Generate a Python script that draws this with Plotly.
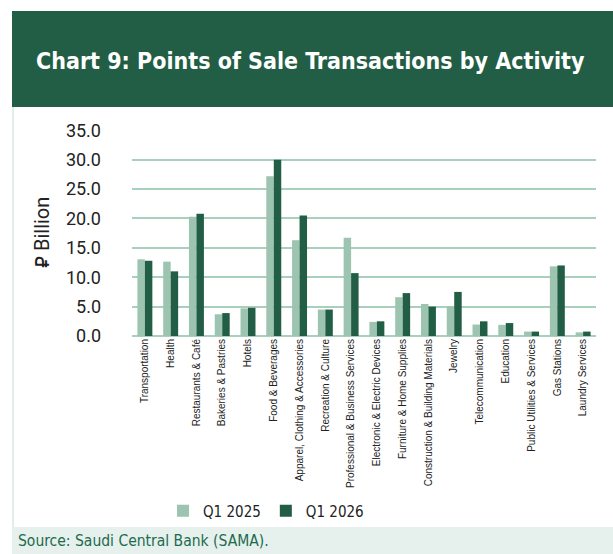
import plotly.graph_objects as go

categories = ["Transportation", "Health", "Restaurants & Café", "Bakeries & Pastries", "Hotels",
              "Food & Beverages", "Apparel, Clothing & Accessories", "Recreation & Culture",
              "Professional & Business Services", "Electronic & Electric Devices",
              "Furniture & Home Supplies", "Construction & Building Materials", "Jewelry",
              "Telecommunication", "Education", "Public Utilities & Services", "Gas Stations",
              "Laundry Services"]
q1_2025 = [13.05, 12.65, 20.3, 3.7, 4.7, 27.2, 16.3, 4.5, 16.7, 2.4, 6.6, 5.45, 5.05, 1.95, 1.9, 0.75, 11.85, 0.62]
q1_2026 = [12.8, 11.0, 20.8, 3.9, 4.8, 30.0, 20.5, 4.5, 10.7, 2.5, 7.3, 5.0, 7.5, 2.5, 2.2, 0.75, 12.0, 0.75]
y_ticks = [0, 5, 10, 15, 20, 25, 30, 35]

W, H = 613, 554
PL, PR, PT, PB = 132, 596, 130, 336  # plot box in window pixels
L, R, T, B = PL, W - PR, PT, H - PB
PW, PH = W - L - R, H - T - B

def px(x):
    return (x - L) / PW

def py(y):
    return (H - B - y) / PH

LIGHT = "#9cc4b0"
DARK = "#225e45"
COND = "DejaVu Sans Condensed, Roboto, sans-serif"

fig = go.Figure()
fig.add_trace(go.Bar(x=categories, y=q1_2025, name="Q1 2025", marker=dict(color=LIGHT, line=dict(width=0))))
fig.add_trace(go.Bar(x=categories, y=q1_2026, name="Q1 2026", marker=dict(color=DARK, line=dict(width=0))))

shapes = [
    dict(type="rect", xref="paper", yref="paper", x0=px(12), x1=px(640), y0=py(107), y1=py(11),
         fillcolor=DARK, line=dict(width=0), layer="below"),
    dict(type="rect", xref="paper", yref="paper", x0=px(12), x1=px(640), y0=py(580), y1=py(527),
         fillcolor="#e6f0ec", line=dict(width=0), layer="below"),
    dict(type="line", xref="paper", yref="paper", x0=px(13), x1=px(13), y0=py(527), y1=py(107),
         line=dict(color="#d8e9e2", width=1.5), layer="below"),
]

annotations = [
    dict(text="<b>Chart 9: Points of Sale Transactions by Activity</b>", xref="paper", yref="paper",
         x=px(310), y=py(61), xanchor="center", yanchor="middle", showarrow=False,
         font=dict(family=COND, size=23, color="white")),
    dict(text="Source: Saudi Central Bank (SAMA).", xref="paper", yref="paper",
         x=px(16), y=py(541), xanchor="left", yanchor="middle", showarrow=False,
         font=dict(family=COND, size=15.5, color="#1d6b4e")),
    dict(text="\u20c1 Billion", xref="paper", yref="paper", x=px(42), y=py(233),
         xanchor="center", yanchor="middle", textangle=-90, showarrow=False,
         font=dict(family="Roboto, sans-serif", size=20, color="#222222")),
]

fig.update_layout(
    width=W, height=H,
    margin=dict(l=L, r=R, t=T, b=B, pad=0),
    paper_bgcolor="white", plot_bgcolor="white",
    barmode="group", bargap=0.42, bargroupgap=0.0,
    shapes=shapes, annotations=annotations,
    showlegend=True,
    legend=dict(orientation="h", x=px(163), xanchor="left", y=py(511), yanchor="middle",
                font=dict(family=COND, size=15, color="#222222"),
                itemwidth=30, traceorder="normal", bgcolor="rgba(0,0,0,0)"),
    xaxis=dict(tickangle=-90, tickfont=dict(family="Liberation Sans, Arial, sans-serif", size=10, color="#222222"),
               showgrid=False, showline=False, ticks="", automargin=False),
    yaxis=dict(range=[0, 35.05], tickvals=y_ticks, ticktext=[f"{v:.1f}" for v in y_ticks],
               tickfont=dict(family="Roboto, sans-serif", size=18, color="#222222"),
               showgrid=True, gridcolor="#a9cfbd", gridwidth=1.5, zeroline=True,
               zerolinecolor="#a9cfbd", zerolinewidth=1.5, showline=False, ticks="",
               ticklabelstandoff=30, automargin=False),
)

fig.write_html("out.html", config={"displayModeBar": False},
               post_script="document.body.style.margin='0';")
